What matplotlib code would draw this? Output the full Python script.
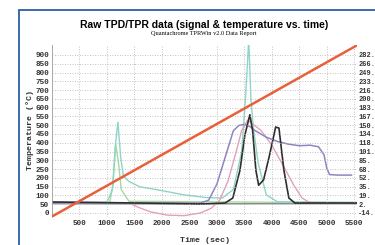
import numpy as np
import matplotlib
matplotlib.use("Agg")
import matplotlib.pyplot as plt
from matplotlib.patches import Rectangle

# temperature ramp (left axis)
temp_time = [0, 5550]
temp_vals = [-20, 955]

# signal traces (right axis)
black_t = [0, 1600, 2700, 3150, 3290, 3420, 3510, 3600, 3650, 3710, 3760, 3850, 3960, 4070, 4130, 4220, 4310, 4420, 5550]
black_v = [6.6, 4.7, 2.9, 4.7, 14, 66, 132, 170, 141, 66, 38, 48, 95, 147, 145, 66, 14, 4.7, 4.7]

pink_t = [0, 1400, 1600, 1800, 2100, 2400, 2700, 2900, 3050, 3200, 3350, 3450, 3560, 3800, 4000, 4200, 4400, 4550, 4700, 5550]
pink_v = [4.7, 4.7, -4.6, -12, -18, -19, -14, -5, 10, 45, 100, 140, 160, 141, 113, 76, 38, 14, 5, 5]

lav_t = [0, 2700, 2850, 3000, 3150, 3300, 3400, 3500, 3600, 3700, 3900, 4100, 4300, 4500, 4700, 4850, 4950, 5000, 5050, 5200, 5450]
lav_v = [4.7, 4.7, 10, 40, 90, 140, 150, 152, 148, 140, 128, 120, 115, 112, 113, 110, 95, 70, 58, 57, 57]

cyan_t = [0, 1000, 1100, 1150, 1200, 1250, 1300, 1400, 1600, 2000, 2400, 2800, 3100, 3300, 3450, 3520, 3580, 3620, 3660, 3750, 3900, 4100, 5550]
cyan_v = [6, 6, 30, 110, 156, 90, 55, 45, 35, 28, 20, 15, 14, 30, 100, 200, 310, 200, 150, 80, 20, 7, 6]

green_t = [0, 1050, 1110, 1160, 1210, 1260, 1400, 5550]
green_v = [5, 5, 40, 115, 80, 30, 8, 5]

gray_t = [0, 2000, 4000, 5550]
gray_v = [3.5, 3.0, 3.5, 3.5]

left_ticks = list(range(0, 901, 50))
right_ticks = [-14 + k * 16.444 for k in range(19)]
x_ticks = list(range(500, 5501, 500))

fig = plt.figure(figsize=(3.75, 2.45), dpi=100)
fig.patch.set_facecolor("white")
fig.patches.append(Rectangle((19 / 375, -0.1), 1.2, 1 - 10 / 245 + 0.1,
                             transform=fig.transFigure, fill=False,
                             edgecolor="#2a5ea8", lw=1.3))

ax = fig.add_axes([52 / 375, 1 - 217 / 245, (357 - 52) / 375, (217 - 45) / 245])
ax2 = ax.twinx()

mono = "Liberation Mono"
ax.set_xlim(0, 5550)
ax.set_ylim(-22.8, 956.7)
ax2.set_ylim(-14 + (-22.8) * 0.3289, -14 + 956.7 * 0.3289)

ax.set_xticks(x_ticks)
ax.set_yticks(left_ticks)
ax2.set_yticks(right_ticks)
ax.set_xticklabels([str(v) for v in x_ticks], family=mono, fontsize=5.5, weight="bold", color="#333333")
ax.set_yticklabels([str(v) for v in left_ticks], family=mono, fontsize=5.5, weight="bold", color="#333333")
ax2.set_yticklabels(["%.0f." % v for v in right_ticks], family=mono, fontsize=5, weight="bold", color="#333333")
ax.tick_params(length=0, pad=2)
ax2.tick_params(length=0, pad=1)

ax.grid(True, color="#b0b0b0", ls=(0, (1, 2)), lw=0.6)
for a in (ax, ax2):
    for s in a.spines.values():
        s.set_visible(False)
ax.spines["left"].set_visible(True)
ax.spines["left"].set_color("#999999")
ax.spines["left"].set_linewidth(0.6)

ax2.plot(gray_t, gray_v, color="#8a8a8a", lw=1.0)
ax2.plot(green_t, green_v, color="#a6d8a0", lw=1.0)
ax2.plot(cyan_t, cyan_v, color="#8ed6c8", lw=1.0)
ax2.plot(pink_t, pink_v, color="#e3a0bd", lw=1.0)
ax2.plot(lav_t, lav_v, color="#8f84c2", lw=1.1)
ax2.plot(black_t, black_v, color="#2e2e2e", lw=1.2)
ax.plot(temp_time, temp_vals, color="#e8603a", lw=1.8, zorder=5)
ax.set_zorder(ax2.get_zorder() + 1)
ax.patch.set_visible(False)

fig.text(0.544, 1 - 25 / 245, "Raw TPD/TPR data (signal & temperature vs. time)",
         ha="center", va="center", family="Liberation Sans", weight="bold", fontsize=7.5)
fig.text(0.544, 1 - 33.5 / 245, "Quantachrome TPRWin v2.0 Data Report",
         ha="center", va="center", family="Liberation Serif", fontsize=4.5)
fig.text(0.08, 0.47, "Temperature (\u00b0C)", rotation=90, ha="center", va="center",
         family=mono, fontsize=6, weight="bold", color="#333333")
fig.text(0.547, 1 - 240 / 245, "Time (sec)", ha="center", va="center",
         family=mono, fontsize=6, weight="bold", color="#333333")

fig.savefig("out.png", dpi=100)
